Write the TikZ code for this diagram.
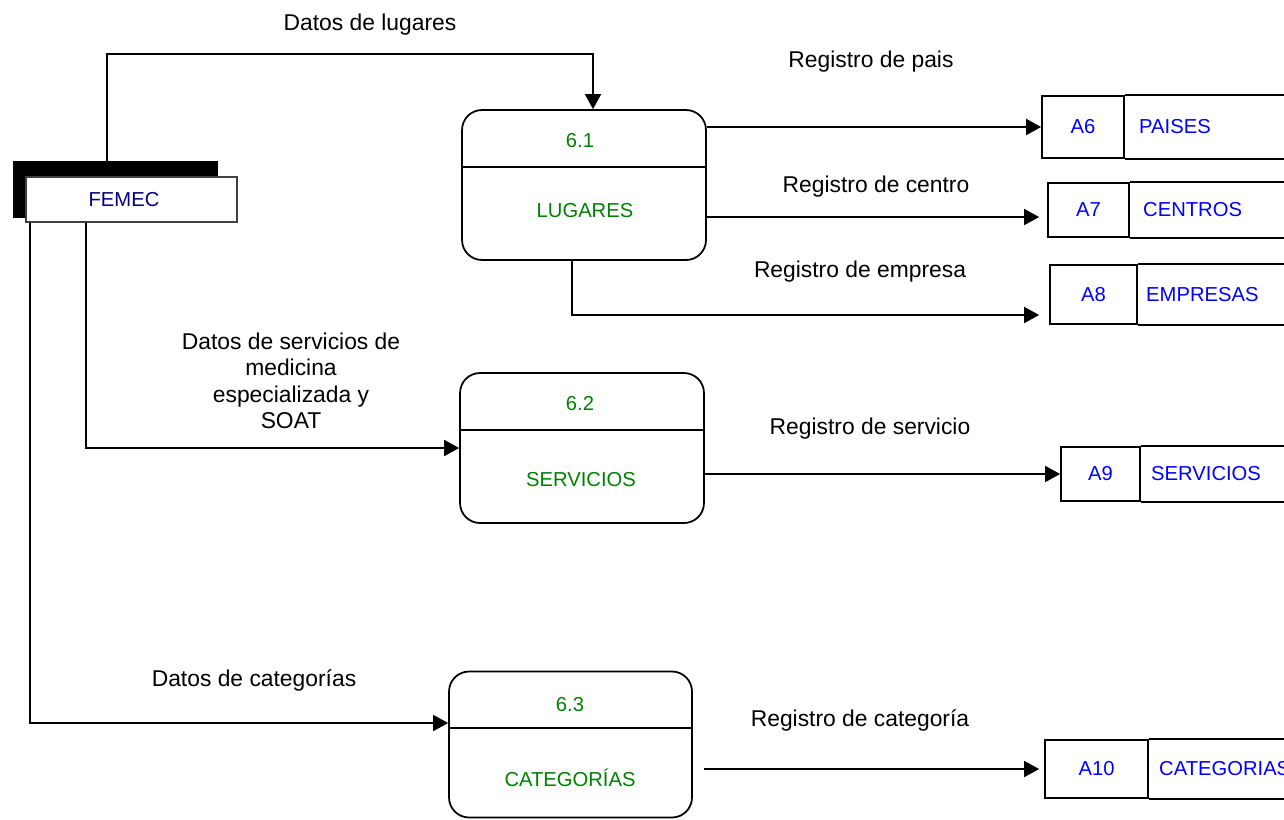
\documentclass[tikz,border=0pt]{standalone}
\usepackage{fontspec}
\setmainfont{Liberation Sans}
\usepackage{xcolor}
\usetikzlibrary{arrows.meta,positioning}
\definecolor{procgreen}{HTML}{008000}
\definecolor{storeblue}{HTML}{0000FF}
\definecolor{extnavy}{HTML}{000080}

\begin{document}
\begin{tikzpicture}[
  x=0.02cm, y=-0.02cm,
  process/.style={rectangle, rounded corners=0.4cm, draw=black, line width=1pt, minimum width=4.88cm, minimum height=3cm},
  proctext/.style={text=procgreen, font=\fontsize{11.5}{14}\selectfont, inner sep=0pt},
  store/.style={rectangle, draw=black, line width=1pt, text=storeblue, font=\fontsize{11.5}{14}\selectfont},
  storetext/.style={text=storeblue, font=\fontsize{11.5}{14}\selectfont, inner sep=0pt},
  extbox/.style={rectangle, draw=black!75, line width=1pt, fill=white, text=extnavy, font=\fontsize{11.5}{14}\selectfont, minimum width=4.22cm, minimum height=0.9cm},
  flowlabel/.style={align=center, font=\fontsize{13}{15.1}\selectfont, inner sep=0pt},
  arrow/.style={-{Triangle[length=0.3cm, width=0.32cm]}, line width=1pt, draw=black}
]
\useasboundingbox (0,0) rectangle (1284,819);
\clip (0,0) rectangle (1284,819);

% external entity
\fill[black] (13,161) rectangle (218,218);
\node[extbox] (femec) at (131.5,199.5) {FEMEC\hspace*{0.3cm}};

% processes
\node[process] (p61) at (584,185) {};
\node[process] (p62) at (582,448) {};
\node[process, minimum width=4.86cm, minimum height=2.92cm] (p63) at (570.5,744.5) {};
\draw[line width=1pt] (p61.west |- 0,167) -- (p61.east |- 0,167);
\draw[line width=1pt] (p62.west |- 0,430) -- (p62.east |- 0,430);
\draw[line width=1pt] (p63.west |- 0,728) -- (p63.east |- 0,728);
\node[proctext] (n61) at (580,141) {6.1};
\node[proctext] (t61) at (585,211) {LUGARES};
\node[proctext] (n62) at (580,404) {6.2};
\node[proctext] (t62) at (581,480) {SERVICIOS};
\node[proctext] (n63) at (570,705) {6.3};
\node[proctext] (t63) at (570,778) {CATEGORÍAS};

% data stores
\node[store, minimum width=1.64cm, minimum height=1.24cm] (a6) at (1083,127) {A6};
\node[store, minimum width=1.62cm, minimum height=1.08cm] (a7) at (1088.5,210) {A7};
\node[store, minimum width=1.74cm, minimum height=1.18cm] (a8) at (1093.5,294.5) {A8};
\node[store, minimum width=1.58cm, minimum height=1.08cm] (a9) at (1100.5,474) {A9};
\node[store, minimum width=2.06cm, minimum height=1.16cm] (a10) at (1096.5,769) {A10};
\node[storetext, right=0.28cm of a6] (s6) {PAISES};
\node[storetext, right=0.26cm of a7] (s7) {CENTROS};
\node[storetext, right=0.16cm of a8] (s8) {EMPRESAS};
\node[storetext, right=0.2cm of a9] (s9) {SERVICIOS};
\node[storetext, right=0.2cm of a10] (s10) {CATEGORIAS};
\draw[line width=1pt] (a6.north east) -- ++(4cm,0) (a6.south east) -- ++(4cm,0);
\draw[line width=1pt] (a7.north east) -- ++(4cm,0) (a7.south east) -- ++(4cm,0);
\draw[line width=1pt] (a8.north east) -- ++(4cm,0) (a8.south east) -- ++(4cm,0);
\draw[line width=1pt] (a9.north east) -- ++(4cm,0) (a9.south east) -- ++(4cm,0);
\draw[line width=1pt] (a10.north east) -- ++(4cm,0) (a10.south east) -- ++(4cm,0);

% flows
\draw[arrow] ([xshift=-0.49cm]femec.north) |- ([xshift=0.18cm, yshift=1.1cm]p61.north) -- ([xshift=0.18cm]p61.north);
\draw[arrow] ([xshift=-0.91cm]femec.south) |- (p62.west);
\draw[arrow] ([xshift=0.1cm]femec.south west) |- ([yshift=0.43cm]p63.west);
\draw[arrow] (p61.east |- a6) -- (a6);
\draw[arrow, shorten >=0.16cm] (p61.east |- 0,217) -- (a7.west |- 0,217);
\draw[arrow, shorten >=0.2cm] ([xshift=-0.24cm]p61.south) |- (a8.west |- 0,315);
\draw[arrow] (p62.east |- a9) -- (a9);
\draw[arrow, shorten <=0.22cm, shorten >=0.1cm] (p63.east |- a10) -- (a10);

% flow labels
\node[flowlabel] (lblugares) at (370,25) {Datos de lugares};
\node[flowlabel] (lbpais) at (871,62) {Registro de pais};
\node[flowlabel] (lbcentro) at (876,187) {Registro de centro};
\node[flowlabel] (lbempresa) at (860,272) {Registro de empresa};
\node[flowlabel] (lbservmed) at (291,381) {Datos de servicios de\\medicina\\especializada y\\SOAT};
\node[flowlabel] (lbservicio) at (870,429) {Registro de servicio};
\node[flowlabel] (lbcateg) at (254,680) {Datos de categorías};
\node[flowlabel] (lbcategreg) at (860,720) {Registro de categoría};
\end{tikzpicture}
\end{document}
